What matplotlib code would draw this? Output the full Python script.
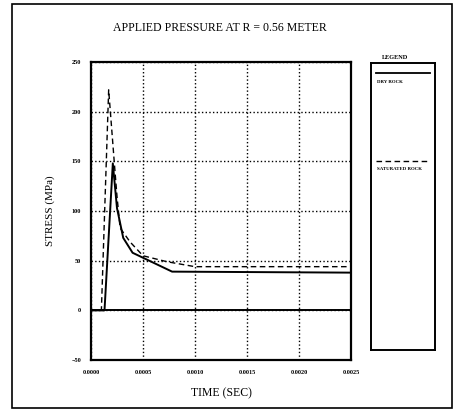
import matplotlib
matplotlib.use("Agg")
import matplotlib.pyplot as plt
from matplotlib.patches import Rectangle

plt.rcParams['font.family'] = ['Liberation Serif', 'DejaVu Serif']

# time in seconds, stress in MPa
t_dry = [0.0, 0.00013, 0.00021, 0.00025, 0.00031, 0.00040, 0.00050, 0.00064, 0.00078, 0.0025]
s_dry = [0, 0, 148, 103, 73, 58, 53, 46, 39, 38]

t_sat = [0.0, 0.00010, 0.00017, 0.00023, 0.00025, 0.00028, 0.000375, 0.00050, 0.00073, 0.00100, 0.0025]
s_sat = [0, 0, 222, 141, 115, 83, 69, 55, 49, 44, 44]

xticks = [0.0, 0.0005, 0.0010, 0.0015, 0.0020, 0.0025]
xlabels = ["0.0000", "0.0005", "0.0010", "0.0015", "0.0020", "0.0025"]
yticks = [-50, 0, 50, 100, 150, 200, 250]

fig = plt.figure(figsize=(4.54, 4.11), dpi=100)
fig.patches.append(Rectangle((12/454, 3/411), 440/454, 404/411, transform=fig.transFigure,
                             fill=False, ec="black", lw=1.2))

ax = fig.add_axes([0.2004, 0.124, 0.5727, 0.725])
ax.plot(t_dry, s_dry, color="black", lw=1.4)
ax.plot(t_sat, s_sat, color="black", lw=1.0, ls=(0, (4, 2.5)))
ax.axhline(0, color="black", lw=1.4)
ax.set_xlim(0, 0.0025)
ax.set_ylim(-50, 250)
ax.set_xticks(xticks)
ax.set_xticklabels(xlabels)
ax.set_yticks(yticks)
ax.tick_params(length=0, labelsize=4.5, pad=7)
for lab in ax.get_xticklabels() + ax.get_yticklabels():
    lab.set_fontweight("bold")
ax.grid(color="black", ls=":", lw=1.0)
for sp in ax.spines.values():
    sp.set_linewidth(1.6)
ax.set_xlabel("TIME (SEC)", fontsize=8.5, labelpad=9)
ax.set_ylabel("STRESS (MPa)", fontsize=8, labelpad=12)
fig.text(0.485, 0.933, "APPLIED PRESSURE AT R = 0.56 METER", ha="center", va="center", fontsize=8.5)

# legend panel
lg = fig.add_axes([0.817, 0.148, 0.141, 0.699])
lg.set_xlim(0, 1)
lg.set_ylim(0, 1)
lg.set_xticks([])
lg.set_yticks([])
for sp in lg.spines.values():
    sp.set_linewidth(1.4)
fig.text(0.87, 0.86, "LEGEND", ha="center", va="center", fontsize=4.5, weight="bold")
lg.plot([0.08, 0.92], [0.964, 0.964], color="black", lw=1.3)
lg.text(0.1, 0.935, "DRY ROCK", fontsize=3.5, va="center", weight="bold")
lg.plot([0.08, 0.92], [0.66, 0.66], color="black", lw=1.0, ls=(0, (4, 2.5)))
lg.text(0.1, 0.63, "SATURATED ROCK", fontsize=3.5, va="center", weight="bold")

fig.savefig("out.png", dpi=100)
